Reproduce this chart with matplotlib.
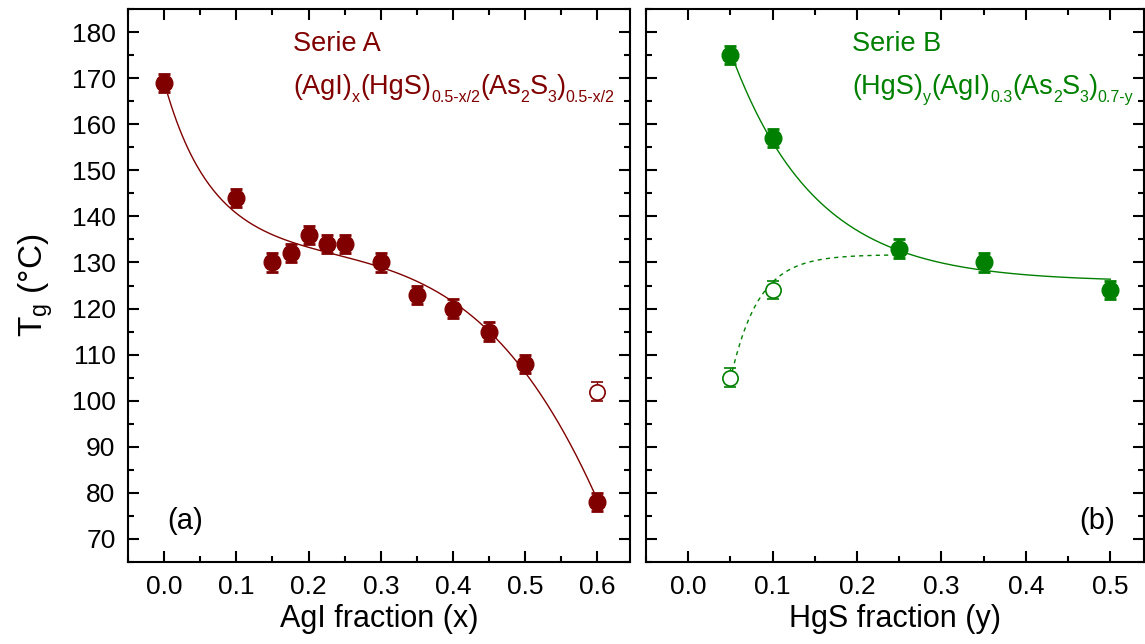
import matplotlib
matplotlib.use('Agg')
import matplotlib.pyplot as plt
import matplotlib.transforms as mtransforms
import numpy as np
from matplotlib.ticker import MultipleLocator

plt.rcParams['font.family'] = ['Liberation Sans', 'DejaVu Sans']
plt.rcParams['mathtext.fontset'] = 'custom'
plt.rcParams['mathtext.rm'] = 'Liberation Sans'
plt.rcParams['mathtext.it'] = 'Liberation Sans'

# Serie A
x_a = [0.0, 0.1, 0.15, 0.175, 0.2, 0.225, 0.25, 0.3, 0.35, 0.4, 0.45, 0.5, 0.6]
tg_a = [169, 144, 130, 132, 136, 134, 134, 130, 123, 120, 115, 108, 78]
err_a = 2
x_a_open = [0.6]
tg_a_open = [102]

# Serie B
y_b = [0.05, 0.1, 0.25, 0.35, 0.5]
tg_b = [175, 157, 133, 130, 124]
err_b = 2
y_b_open = [0.05, 0.1]
tg_b_open = [105, 124]

# formula pieces: (text, is_subscript)
formula_a = [('(AgI)', 0), ('x', 1), ('(HgS)', 0), ('0.5-x/2', 1),
             ('(As', 0), ('2', 1), ('S', 0), ('3', 1), (')', 0), ('0.5-x/2', 1)]
formula_b = [('(HgS)', 0), ('y', 1), ('(AgI)', 0), ('0.3', 1),
             ('(As', 0), ('2', 1), ('S', 0), ('3', 1), (')', 0), ('0.7-y', 1)]

RED = '#800000'
GREEN = '#008000'


def fit_curve(x, y, basis, xs):
    x = np.asarray(x, float)
    A = np.column_stack([f(x) for f in basis])
    coef, *_ = np.linalg.lstsq(A, np.asarray(y, float), rcond=None)
    return np.column_stack([f(xs) for f in basis]) @ coef


def chem_text(ax, x, y, pieces, color, size=19.5, subsize=11.5, drop=6):
    renderer = ax.figure.canvas.get_renderer()
    dx = 0.0
    for s, sub in pieces:
        tr = mtransforms.offset_copy(ax.transData, fig=ax.figure, x=dx,
                                     y=-drop if sub else 0, units='points')
        t = ax.text(x, y, s, transform=tr, color=color, va='baseline',
                    fontsize=subsize if sub else size)
        w = t.get_window_extent(renderer).width
        dx += w * 72.0 / ax.figure.dpi


fig = plt.figure(figsize=(11.45, 6.44), dpi=100)
ax1 = fig.add_axes([0.1118, 0.1273, 0.4384, 0.8587])
ax2 = fig.add_axes([0.5642, 0.1273, 0.4350, 0.8587])

for ax in (ax1, ax2):
    ax.set_ylim(65, 185)
ax1.set_xlim(-0.05, 0.645)
ax2.set_xlim(-0.05, 0.54)

# --- panel (a)
xs = np.linspace(0.005, 0.6, 300)
basis_a = [lambda t: np.ones_like(t), lambda t: np.exp(-t / 0.05),
           lambda t: t, lambda t: t ** 2, lambda t: t ** 3]
ax1.plot(xs, fit_curve(x_a, tg_a, basis_a, xs), color=RED, lw=1.0, zorder=1)
ax1.errorbar(x_a, tg_a, yerr=err_a, fmt='o', color=RED, ms=12, capsize=4.5,
             elinewidth=1.5, capthick=2, zorder=3)
ax1.errorbar(x_a_open, tg_a_open, yerr=err_a, fmt='o', color=RED, mfc='white',
             ms=11, capsize=4.5, elinewidth=1.0, capthick=1.5, mew=1.2, zorder=3)
ax1.set_xlabel('AgI fraction (x)', fontsize=22)
ax1.set_ylabel(r'T$_\mathregular{g}$ (°C)', fontsize=24, labelpad=12)
ax1.text(0.179, 177.4, 'Serie A', color=RED, fontsize=19.5, va='center')
chem_text(ax1, 0.179, 166.6, formula_a, RED)
ax1.text(0.005, 74, '(a)', fontsize=21, va='center')

# --- panel (b)
ys = np.linspace(0.05, 0.5, 300)
basis_b = [lambda t: np.ones_like(t), lambda t: np.exp(-t / 0.1)]
ax2.plot(ys, fit_curve(y_b, tg_b, basis_b, ys), color=GREEN, lw=1.0, zorder=1)
yd = np.linspace(0.05, 0.25, 200)
basis_d = [lambda t: np.ones_like(t), lambda t: np.exp(-t / 0.033)]
ax2.plot(yd, fit_curve(y_b_open + [0.25], tg_b_open + [133], basis_d, yd),
         color=GREEN, lw=1.0, ls=(0, (3, 3)), zorder=1)
ax2.errorbar(y_b, tg_b, yerr=err_b, fmt='o', color=GREEN, ms=12, capsize=4.5,
             elinewidth=1.5, capthick=2, zorder=3)
ax2.errorbar(y_b_open, tg_b_open, yerr=err_b, fmt='o', color=GREEN, mfc='white',
             ms=11, capsize=4.5, elinewidth=1.0, capthick=1.5, mew=1.2, zorder=3)
ax2.set_xlabel('HgS fraction (y)', fontsize=22)
ax2.text(0.1945, 177.4, 'Serie B', color=GREEN, fontsize=19.5, va='center')
chem_text(ax2, 0.1945, 166.6, formula_b, GREEN)
ax2.text(0.505, 74, '(b)', fontsize=21, va='center', ha='right')

for ax in (ax1, ax2):
    ax.xaxis.set_major_locator(MultipleLocator(0.1))
    ax.xaxis.set_minor_locator(MultipleLocator(0.05))
    ax.yaxis.set_major_locator(MultipleLocator(10))
    ax.yaxis.set_minor_locator(MultipleLocator(5))
    ax.tick_params(which='both', direction='in', top=True, right=True,
                   labelsize=19, width=1.5)
    ax.tick_params(which='major', length=8, pad=9)
    ax.tick_params(which='minor', length=4)
    ax.xaxis.set_major_formatter(plt.FuncFormatter(lambda v, p: f'{v:.1f}'))
    for s in ax.spines.values():
        s.set_linewidth(1.5)

ax2.tick_params(labelleft=False)

fig.savefig('out.png', dpi=100)
